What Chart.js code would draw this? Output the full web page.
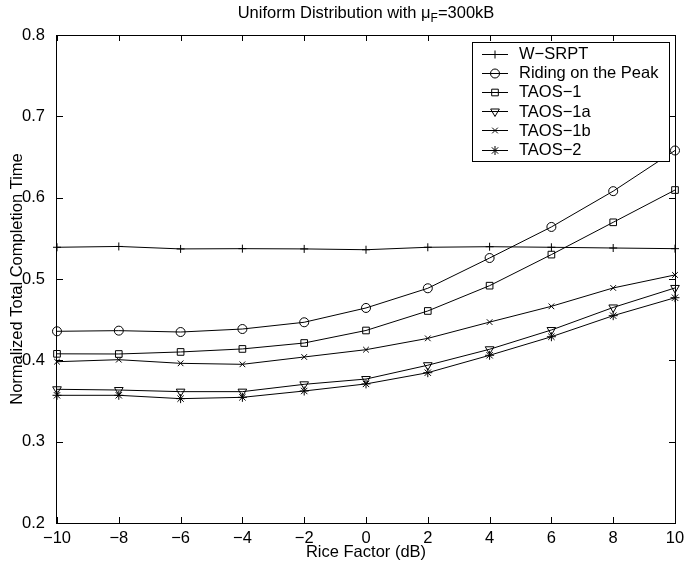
<!DOCTYPE html>
<html lang="en">
<head>
    <meta charset="UTF-8">
    <title>Uniform Distribution</title>
    <script src="https://cdn.jsdelivr.net/npm/chart.js"></script>
    <style>
        body { margin: 0; background: #fff; }
        .chart-container { width: 685px; height: 567px; }
    </style>
</head>
<body>
    <div class="chart-container">
        <canvas id="riceChart" width="685" height="567"></canvas>
    </div>

    <script>
        // data
        const riceFactor = [-10, -8, -6, -4, -2, 0, 2, 4, 6, 8, 10];
        const wSrpt   = [0.539, 0.540, 0.537, 0.5373, 0.537, 0.536, 0.539, 0.5397, 0.539, 0.5381, 0.5373];
        const riding  = [0.4357, 0.4365, 0.4348, 0.4385, 0.4468, 0.4644, 0.4886, 0.5258, 0.564, 0.608, 0.658];
        const taos1   = [0.408, 0.4078, 0.4103, 0.414, 0.4213, 0.4367, 0.4607, 0.4918, 0.530, 0.5697, 0.6094];
        const taos1a  = [0.3644, 0.3635, 0.3615, 0.3615, 0.3705, 0.377, 0.394, 0.4136, 0.4373, 0.465, 0.489];
        const taos1b  = [0.3983, 0.4008, 0.3963, 0.3951, 0.4041, 0.4131, 0.427, 0.447, 0.4664, 0.489, 0.505];
        const taos2   = [0.357, 0.357, 0.3529, 0.3545, 0.3623, 0.371, 0.3848, 0.4062, 0.429, 0.4549, 0.477];
        const xTicks  = [-10, -8, -6, -4, -2, 0, 2, 4, 6, 8, 10];
        const yTicks  = [0.2, 0.3, 0.4, 0.5, 0.6, 0.7, 0.8];
        const seriesNames = ['W\u2212SRPT', 'Riding on the Peak', 'TAOS\u22121', 'TAOS\u22121a', 'TAOS\u22121b', 'TAOS\u22122'];

        const FONT = '"Liberation Sans", Arial, Helvetica, sans-serif';
        Chart.defaults.font.family = FONT;
        Chart.defaults.font.size = 16.5;
        Chart.defaults.color = '#000';

        const markers = [
            { pointStyle: 'cross', radius: 4, rotation: 0 },
            { pointStyle: 'circle', radius: 4.5, rotation: 0 },
            { pointStyle: 'rect', radius: 4.7, rotation: 0 },
            { pointStyle: 'triangle', radius: 5, rotation: 180 },
            { pointStyle: 'crossRot', radius: 4, rotation: 0 },
            { pointStyle: 'star', radius: 4.5, rotation: 0 }
        ];
        const allSeries = [wSrpt, riding, taos1, taos1a, taos1b, taos2];

        function toPoints(values) {
            return riceFactor.map((x, i) => ({ x: x, y: values[i] }));
        }

        const datasets = allSeries.map((vals, i) => ({
            label: seriesNames[i],
            data: toPoints(vals),
            borderColor: '#000',
            borderWidth: 1,
            backgroundColor: 'rgba(0,0,0,0)',
            pointStyle: markers[i].pointStyle,
            pointRadius: markers[i].radius,
            pointRotation: markers[i].rotation,
            pointBorderColor: '#000',
            pointBorderWidth: 1,
            pointBackgroundColor: 'rgba(0,0,0,0)',
            tension: 0,
            clip: false
        }));

        // box, inward ticks, legend and title in matlab style
        const matlabLook = {
            id: 'matlabLook',
            afterDatasetsDraw(chart) {
                const ctx = chart.ctx;
                const xs = chart.scales.x, ys = chart.scales.y;
                const a = chart.chartArea;
                ctx.save();
                ctx.strokeStyle = '#000';
                ctx.lineWidth = 1;
                ctx.beginPath();
                xTicks.forEach(v => {
                    const px = Math.round(xs.getPixelForValue(v)) + 0.5;
                    ctx.moveTo(px, a.bottom); ctx.lineTo(px, a.bottom - 6);
                    ctx.moveTo(px, a.top); ctx.lineTo(px, a.top + 6);
                });
                yTicks.forEach(v => {
                    const py = Math.round(ys.getPixelForValue(v)) + 0.5;
                    ctx.moveTo(a.left, py); ctx.lineTo(a.left + 6, py);
                    ctx.moveTo(a.right, py); ctx.lineTo(a.right - 6, py);
                });
                ctx.stroke();
                ctx.strokeRect(Math.round(a.left) - 0.5, Math.round(a.top) + 0.5,
                    Math.round(a.right - a.left) + 1, Math.round(a.bottom - a.top));

                // legend
                const lx = 472, ly = 42, lw = 197, lh = 119;
                ctx.fillStyle = '#fff';
                ctx.fillRect(lx, ly, lw, lh);
                ctx.strokeRect(lx + 0.5, ly + 0.5, lw, lh);
                ctx.font = '16.5px ' + FONT;
                ctx.textBaseline = 'middle';
                ctx.textAlign = 'left';
                seriesNames.forEach((name, i) => {
                    const y = ly + 11.5 + i * 19.2;
                    ctx.beginPath();
                    ctx.moveTo(482, Math.round(y) + 0.5);
                    ctx.lineTo(508, Math.round(y) + 0.5);
                    ctx.stroke();
                    ctx.fillStyle = 'rgba(0,0,0,0)';
                    Chart.helpers.drawPoint(ctx, {
                        pointStyle: markers[i].pointStyle,
                        radius: markers[i].radius,
                        rotation: markers[i].rotation,
                        borderWidth: 1
                    }, 495, Math.round(y) + 0.5);
                    ctx.fillStyle = '#000';
                    ctx.fillText(name, 519, y + 1);
                });

                // title with subscript
                const t1 = 'Uniform Distribution with \u03bc', sub = 'F', t2 = '=300kB';
                ctx.font = '16.5px ' + FONT;
                const w1 = ctx.measureText(t1).width, w2 = ctx.measureText(t2).width;
                ctx.font = '12px ' + FONT;
                const ws = ctx.measureText(sub).width;
                let x0 = (a.left + a.right) / 2 - (w1 + ws + w2) / 2;
                ctx.fillStyle = '#000';
                ctx.textBaseline = 'alphabetic';
                ctx.font = '16.5px ' + FONT;
                ctx.fillText(t1, x0, 17.5);
                ctx.font = '12px ' + FONT;
                ctx.fillText(sub, x0 + w1, 21.5);
                ctx.font = '16.5px ' + FONT;
                ctx.fillText(t2, x0 + w1 + ws, 17.5);
                ctx.restore();
            }
        };

        const ctx = document.getElementById('riceChart').getContext('2d');
        new Chart(ctx, {
            type: 'line',
            data: { datasets: datasets },
            options: {
                responsive: false,
                animation: false,
                layout: { padding: { top: 35, right: 10, left: 0, bottom: 0 } },
                plugins: {
                    legend: { display: false },
                    tooltip: { enabled: false }
                },
                scales: {
                    x: {
                        type: 'linear',
                        min: -10,
                        max: 10,
                        grid: { display: false },
                        border: { display: false },
                        afterBuildTicks: s => { s.ticks = xTicks.map(v => ({ value: v })); },
                        afterFit: s => { s.height = 44; s.paddingLeft = 0; s.paddingRight = 0; },
                        ticks: {
                            padding: -2,
                            maxRotation: 0,
                            callback: v => String(v).replace('-', '\u2212')
                        },
                        title: { display: true, text: 'Rice Factor (dB)', padding: { top: 0, bottom: 5 } }
                    },
                    y: {
                        type: 'linear',
                        min: 0.2,
                        max: 0.8,
                        grid: { display: false },
                        border: { display: false },
                        afterBuildTicks: s => { s.ticks = yTicks.map(v => ({ value: v })); },
                        afterFit: s => { s.width = 57; s.paddingTop = 0; s.paddingBottom = 0; },
                        ticks: {
                            padding: 4,
                            callback: v => Number(v).toFixed(1)
                        },
                        title: { display: true, text: 'Normalized Total Completion Time', padding: { top: 8, bottom: 0 } }
                    }
                }
            },
            plugins: [matlabLook]
        });
    </script>
</body>
</html>
